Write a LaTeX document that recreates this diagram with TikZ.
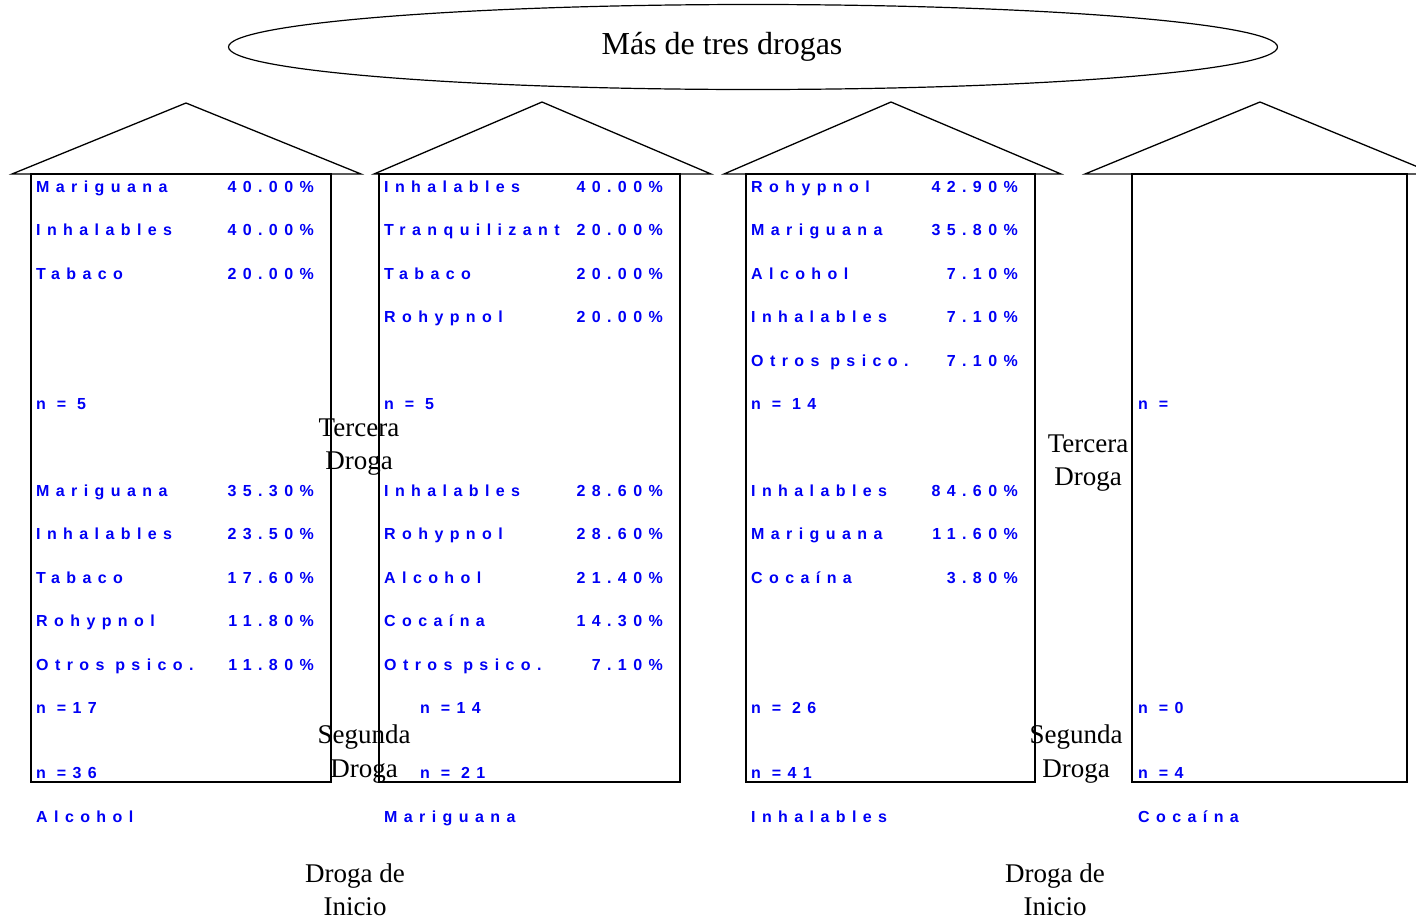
\documentclass[tikz,border=0pt]{standalone}
\usetikzlibrary{shapes.geometric}
\usepackage{fontspec}
\setmainfont{Liberation Serif}
\newfontfamily\lblfont[LetterSpace=40]{Liberation Sans Bold}
\definecolor{dblue}{RGB}{0,0,245}
\tikzset{
  lbl/.style={font=\lblfont\fontsize{16}{18}\selectfont, text=dblue, inner sep=0pt},
  nm/.style={lbl, anchor=base west},
  pct/.style={lbl, anchor=base east},
  ser/.style={font=\fontsize{27}{33.5}\selectfont, align=center, inner sep=0pt},
  roof/.style={draw=black, line width=1.3pt, line join=miter},
  boxw/.style={draw=black, line width=2.4pt}
}
\begin{document}
\begin{tikzpicture}[x=1pt,y=-1pt]
\useasboundingbox (0,0) rectangle (1416,919);
\clip (0,0) rectangle (1416,919);
% title ellipse
\node[draw, line width=1.2pt, ellipse, minimum width=1049pt, minimum height=85pt, inner sep=0pt] (title) at (753,47) {};
\node[font=\fontsize{32}{38}\selectfont, inner sep=0pt] (titletxt) at (722,47) {Más de tres drogas};
% houses
\draw[roof] (12,174) -- (186,103) -- (361,174) -- cycle;
\draw[roof] (374,174) -- (542,102) -- (711,174) -- cycle;
\draw[roof] (724,174) -- (891,102) -- (1061,174) -- cycle;
\draw[roof] (1085,174) -- (1260,102) -- (1435,174) -- cycle;
\node[boxw, minimum width=300pt, minimum height=608pt, inner sep=0pt] (b1) at (181,478) {};
\node[boxw, minimum width=301pt, minimum height=608pt, inner sep=0pt] (b2) at (529.5,478) {};
\node[boxw, minimum width=289pt, minimum height=608pt, inner sep=0pt] (b3) at (890.5,478) {};
\node[boxw, minimum width=275pt, minimum height=608pt, inner sep=0pt] (b4) at (1269.5,478) {};
% house 1
\node[nm] (h1a) at (36,192) {Mariguana};   \node[pct] (h1ap) at (314,192) {40.00\%};
\node[nm] (h1b) at (36,235) {Inhalables};  \node[pct] (h1bp) at (314,235) {40.00\%};
\node[nm] (h1c) at (36,279) {Tabaco};      \node[pct] (h1cp) at (314,279) {20.00\%};
\node[nm] (h1n) at (36,409) {n = 5};
\node[nm] (h1d) at (36,496) {Mariguana};   \node[pct] (h1dp) at (314,496) {35.30\%};
\node[nm] (h1e) at (36,539) {Inhalables};  \node[pct] (h1ep) at (314,539) {23.50\%};
\node[nm] (h1f) at (36,583) {Tabaco};      \node[pct] (h1fp) at (314,583) {17.60\%};
\node[nm] (h1g) at (36,626) {Rohypnol};    \node[pct] (h1gp) at (314,626) {11.80\%};
\node[nm] (h1h) at (36,670) {Otros psico.};\node[pct] (h1hp) at (314,670) {11.80\%};
\node[nm] (h1m) at (36,713) {n =17};
\node[nm] (h1k) at (36,778) {n =36};
\node[nm] (h1s) at (36,822) {Alcohol};
% house 2
\node[nm] (h2a) at (384,192) {Inhalables};  \node[pct] (h2ap) at (663,192) {40.00\%};
\begin{scope}
\clip (380,200) rectangle (564,245);
\node[nm] (h2b) at (384,235) {Tranquilizantes};
\end{scope}
\node[pct] (h2bp) at (663,235) {20.00\%};
\node[nm] (h2c) at (384,279) {Tabaco};      \node[pct] (h2cp) at (663,279) {20.00\%};
\node[nm] (h2d) at (384,322) {Rohypnol};    \node[pct] (h2dp) at (663,322) {20.00\%};
\node[nm] (h2n) at (384,409) {n = 5};
\node[nm] (h2e) at (384,496) {Inhalables};  \node[pct] (h2ep) at (663,496) {28.60\%};
\node[nm] (h2f) at (384,539) {Rohypnol};    \node[pct] (h2fp) at (663,539) {28.60\%};
\node[nm] (h2g) at (384,583) {Alcohol};     \node[pct] (h2gp) at (663,583) {21.40\%};
\node[nm] (h2h) at (384,626) {Cocaína};     \node[pct] (h2hp) at (663,626) {14.30\%};
\node[nm] (h2i) at (384,670) {Otros psico.};\node[pct] (h2ip) at (663,670) {7.10\%};
\node[nm] (h2m) at (420,713) {n =14};
\node[nm] (h2k) at (420,778) {n = 21};
\node[nm] (h2s) at (384,822) {Mariguana};
% house 3
\node[nm] (h3a) at (751,192) {Rohypnol};    \node[pct] (h3ap) at (1018,192) {42.90\%};
\node[nm] (h3b) at (751,235) {Mariguana};   \node[pct] (h3bp) at (1018,235) {35.80\%};
\node[nm] (h3c) at (751,279) {Alcohol};     \node[pct] (h3cp) at (1018,279) {7.10\%};
\node[nm] (h3d) at (751,322) {Inhalables};  \node[pct] (h3dp) at (1018,322) {7.10\%};
\node[nm] (h3e) at (751,366) {Otros psico.};\node[pct] (h3ep) at (1018,366) {7.10\%};
\node[nm] (h3n) at (751,409) {n = 14};
\node[nm] (h3f) at (751,496) {Inhalables};  \node[pct] (h3fp) at (1018,496) {84.60\%};
\node[nm] (h3g) at (751,539) {Mariguana};   \node[pct] (h3gp) at (1018,539) {11.60\%};
\node[nm] (h3h) at (751,583) {Cocaína};     \node[pct] (h3hp) at (1018,583) {3.80\%};
\node[nm] (h3m) at (751,713) {n = 26};
\node[nm] (h3k) at (751,778) {n =41};
\node[nm] (h3s) at (751,822) {Inhalables};
% house 4
\node[nm] (h4n) at (1138,409) {n =};
\node[nm] (h4m) at (1138,713) {n =0};
\node[nm] (h4k) at (1138,778) {n =4};
\node[nm] (h4s) at (1138,822) {Cocaína};
% serif labels
\node[ser] (ter1) at (359,447) {Tercera\\Droga};
\node[ser] (seg1) at (364,754) {Segunda\\Droga};
\node[ser] (ini1) at (355,889.5) {Droga de\\Inicio};
\node[ser] (ter2) at (1088,463) {Tercera\\Droga};
\node[ser] (seg2) at (1076,754) {Segunda\\Droga};
\node[ser] (ini2) at (1055,889.5) {Droga de\\Inicio};
\end{tikzpicture}
\end{document}
